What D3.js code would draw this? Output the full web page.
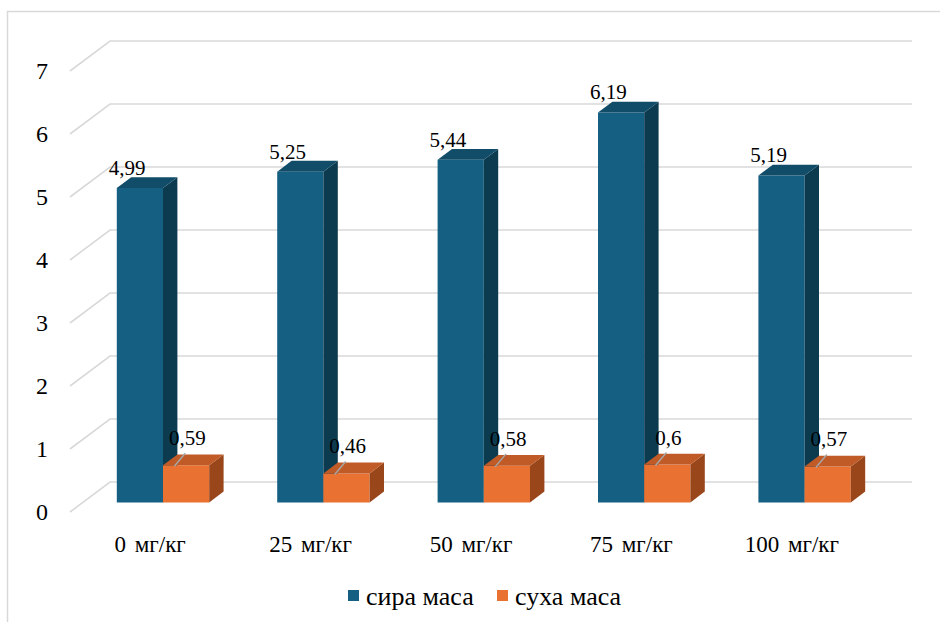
<!DOCTYPE html>
<html><head><meta charset="utf-8">
<script src="https://cdn.jsdelivr.net/npm/d3@7"></script>
<style>body{margin:0;background:#fff}svg{display:block}</style>
</head><body>
<script>
// ---- data ----
const categories = ["0 мг/кг", "25 мг/кг", "50 мг/кг", "75 мг/кг", "100 мг/кг"];
const seriesNames = ["сира маса", "суха маса"];
const wetMass = [4.99, 5.25, 5.44, 6.19, 5.19];
const dryMass = [0.59, 0.46, 0.58, 0.6, 0.57];
const yTicks = [0, 1, 2, 3, 4, 5, 6, 7];

// ---- styles ----
const colors = {
  "сира маса": {front: "#156082", top: "#114d68", side: "#0c3b50"},
  "суха маса": {front: "#e97132", top: "#c05a26", side: "#99461b"}
};
const FAM = "Liberation Serif";

const W = 940, H = 622;
const svg = d3.select("body").append("svg").attr("width", W).attr("height", H);
const serif = sel => sel.attr("font-family", FAM).style("font-family", d => `"${FAM}"`);

const loc = d3.formatLocale({decimal: ",", thousands: " ", grouping: [3], currency: ["", ""]});
const fmt = loc.format("");

// geometry
const floorY = 512, frontX0 = 70, frontX1 = 872, depthX = 40, depthY = 30;
const y = d3.scaleLinear().domain([0, 7]).range([0, 441]);
const x0 = d3.scaleBand().domain(categories).range([frontX0, frontX1]).paddingInner(0.424).paddingOuter(0.212);
const x1 = d3.scaleBand().domain(seriesNames).range([0, x0.bandwidth()]);
const zFront = 0.32, zBack = 0.68;
const proj = (x, z, v) => [x + depthX * z, floorY - depthY * z - y(v)];

// border
svg.append("path").attr("d", `M7.5,${H} V11.5 H${W}`).attr("fill", "none")
  .attr("stroke", "#d9d9d9").attr("stroke-width", 1.5);

// gridlines (side wall + back wall)
const line = d3.line();
svg.append("g").selectAll("path").data(yTicks).join("path")
  .attr("d", t => line([proj(frontX0, 0, t), proj(frontX0, 1, t), proj(frontX1, 1, t)]))
  .attr("fill", "none").attr("stroke", "#d9d9d9").attr("stroke-width", 1.6);

// y tick labels
svg.selectAll("text.ytick").data(yTicks).join("text").attr("class", "ytick")
  .attr("x", 42).attr("y", t => proj(frontX0, 0, t)[1])
  .attr("dy", "0.35em").attr("text-anchor", "middle")
  .attr("font-size", 24).call(serif).text(d => d);

// category labels
svg.selectAll("text.cat").data(categories).join("text").attr("class", "cat")
  .attr("x", c => x0(c) + x0.bandwidth() / 2).attr("y", 552)
  .attr("text-anchor", "middle").attr("font-size", 23).attr("word-spacing", 3)
  .call(serif).text(c => c);

// bars
const rows = [];
categories.forEach((c, i) => {
  rows.push({cat: c, s: seriesNames[0], v: wetMass[i]});
  rows.push({cat: c, s: seriesNames[1], v: dryMass[i]});
});
const pts = a => a.map(p => p.join(",")).join(" ");
const gBars = svg.append("g");
rows.forEach(d => {
  const xa = x0(d.cat) + x1(d.s), xb = xa + x1.bandwidth();
  const col = colors[d.s];
  const g = gBars.append("g");
  g.append("polygon").attr("fill", col.front)
    .attr("points", pts([proj(xa, zFront, 0), proj(xb, zFront, 0), proj(xb, zFront, d.v), proj(xa, zFront, d.v)]));
  g.append("polygon").attr("fill", col.side)
    .attr("points", pts([proj(xb, zFront, 0), proj(xb, zBack, 0), proj(xb, zBack, d.v), proj(xb, zFront, d.v)]));
  g.append("polygon").attr("fill", col.top)
    .attr("points", pts([proj(xa, zFront, d.v), proj(xb, zFront, d.v), proj(xb, zBack, d.v), proj(xa, zBack, d.v)]));
  d.xa = xa; d.xb = xb; d.top = proj(xa, zFront, d.v)[1]; d.cx = (xa + xb) / 2;
});

// leader lines for the small-bar labels
const small = rows.filter(d => d.s === seriesNames[1]);
svg.selectAll("path.leader").data(small).join("path").attr("class", "leader")
  .attr("d", d => line([[d.cx + 1, d.top + 1], [d.cx + 12, d.top - 12]]))
  .attr("stroke", "#a6a6a6").attr("stroke-width", 1.5).attr("fill", "none");

// data labels
svg.selectAll("text.val").data(rows).join("text").attr("class", "val")
  .attr("x", d => d.s === seriesNames[0] ? d.cx : d.cx + 14)
  .attr("y", d => d.s === seriesNames[0] ? d.top - 13 : d.top - 20)
  .attr("text-anchor", "middle").attr("font-size", 21)
  .call(serif).text(d => fmt(d.v));

// legend
const legendX = [348, 497];
const lg = svg.append("g").selectAll("g").data(seriesNames).join("g")
  .attr("transform", (d, i) => `translate(${legendX[i]},590)`);
lg.append("rect").attr("width", 11).attr("height", 11).attr("fill", d => colors[d].front);
lg.append("text").attr("x", 18).attr("y", 15).attr("font-size", 26)
  .call(serif).text(d => d);
</script>
</body></html>
